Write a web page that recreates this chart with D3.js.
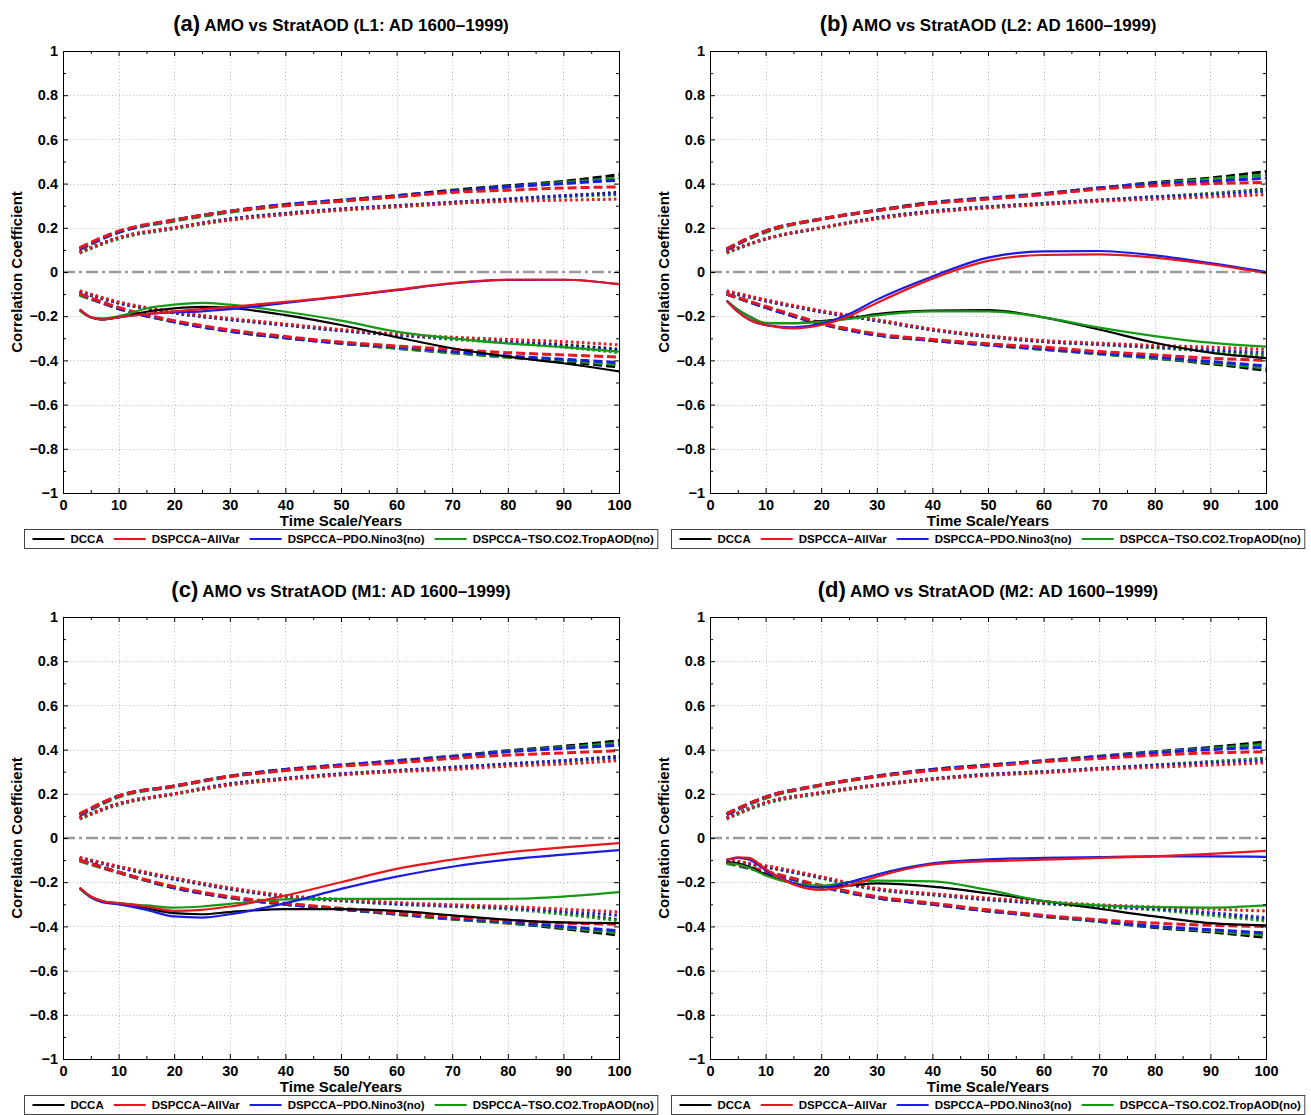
<!DOCTYPE html>
<html lang="en">
<head>
<meta charset="utf-8">
<title>AMO vs StratAOD</title>
<script src="https://cdn.jsdelivr.net/npm/d3@7"></script>
<style>
  * { margin: 0; padding: 0; }
  body { background: #fff; }
  svg { display: block; }
  text { font-family: "Liberation Sans", Arial, Helvetica, sans-serif; font-weight: bold; }
</style>
</head>
<body>
<div id="chart"></div>
<script>
// ---- legend / series meta ----
const methods = ["DCCA", "DSPCCA\u2212AllVar", "DSPCCA\u2212PDO.Nino3(no)", "DSPCCA\u2212TSO.CO2.TropAOD(no)"];
const methodColors = ["#000000", "#e8161e", "#1c1ce0", "#169a16"];
const panelLetters = ["(a)", "(b)", "(c)", "(d)"];
const panelTitles = [" AMO vs StratAOD (L1: AD 1600\u20131999)", " AMO vs StratAOD (L2: AD 1600\u20131999)",
                     " AMO vs StratAOD (M1: AD 1600\u20131999)", " AMO vs StratAOD (M2: AD 1600\u20131999)"];

// ---- ticks ----
const xTicks = [0, 10, 20, 30, 40, 50, 60, 70, 80, 90, 100];
const xTickLabels = ["0", "10", "20", "30", "40", "50", "60", "70", "80", "90", "100"];
const xMinor = [5, 15, 25, 35, 45, 55, 65, 75, 85, 95];
const yTicks = [-1, -0.8, -0.6, -0.4, -0.2, 0, 0.2, 0.4, 0.6, 0.8, 1];
const yTickLabels = ["\u22121", "\u22120.8", "\u22120.6", "\u22120.4", "\u22120.2", "0", "0.2", "0.4", "0.6", "0.8", "1"];
const yMinor = [-0.9, -0.7, -0.5, -0.3, -0.1, 0.1, 0.3, 0.5, 0.7, 0.9];

// ---- x positions of the values (time scale, years) ----
const xSolid = [3, 5, 7, 10, 15, 20, 25, 30, 40, 50, 60, 70, 80, 90, 100];
const xBand = [3, 10, 20, 30, 40, 50, 60, 70, 80, 90, 100];

// rows: DCCA, AllVar, PDO.Nino3(no), TSO.CO2.TropAOD(no)
// ---- panel (a) ----
const solidA = [
  [-0.17, -0.205, -0.215, -0.205, -0.18, -0.165, -0.158, -0.163, -0.195, -0.24, -0.295, -0.345, -0.383, -0.413, -0.45],
  [-0.17, -0.205, -0.215, -0.205, -0.19, -0.178, -0.168, -0.158, -0.135, -0.11, -0.08, -0.05, -0.035, -0.035, -0.055],
  [-0.17, -0.205, -0.215, -0.205, -0.19, -0.183, -0.178, -0.168, -0.14, -0.112, -0.082, -0.052, -0.036, -0.035, -0.055],
  [-0.175, -0.205, -0.21, -0.2, -0.165, -0.148, -0.14, -0.148, -0.18, -0.22, -0.27, -0.3, -0.323, -0.34, -0.36]
];
const upDashA = [
  [0.105, 0.18, 0.235, 0.275, 0.305, 0.325, 0.345, 0.37, 0.39, 0.41, 0.44],
  [0.11, 0.185, 0.235, 0.275, 0.3, 0.32, 0.34, 0.36, 0.37, 0.38, 0.385],
  [0.105, 0.18, 0.235, 0.275, 0.305, 0.325, 0.345, 0.365, 0.385, 0.4, 0.415],
  [0.1, 0.18, 0.23, 0.27, 0.3, 0.32, 0.34, 0.365, 0.385, 0.405, 0.425]
];
const upDotA = [
  [0.09, 0.155, 0.2, 0.24, 0.265, 0.285, 0.3, 0.315, 0.33, 0.345, 0.36],
  [0.09, 0.155, 0.2, 0.235, 0.26, 0.28, 0.295, 0.31, 0.32, 0.325, 0.33],
  [0.09, 0.155, 0.2, 0.24, 0.265, 0.285, 0.3, 0.315, 0.33, 0.345, 0.355],
  [0.085, 0.15, 0.195, 0.235, 0.26, 0.28, 0.295, 0.31, 0.325, 0.34, 0.35]
];
const loDashA = [
  [-0.1, -0.165, -0.225, -0.268, -0.298, -0.322, -0.345, -0.365, -0.385, -0.405, -0.43],
  [-0.1, -0.16, -0.22, -0.262, -0.292, -0.317, -0.335, -0.35, -0.365, -0.375, -0.385],
  [-0.1, -0.165, -0.225, -0.268, -0.298, -0.322, -0.34, -0.36, -0.38, -0.395, -0.41],
  [-0.105, -0.165, -0.225, -0.268, -0.298, -0.322, -0.345, -0.365, -0.385, -0.4, -0.42]
];
const loDotA = [
  [-0.09, -0.14, -0.185, -0.215, -0.24, -0.265, -0.285, -0.3, -0.315, -0.33, -0.35],
  [-0.085, -0.135, -0.18, -0.21, -0.235, -0.26, -0.28, -0.295, -0.305, -0.315, -0.33],
  [-0.09, -0.14, -0.185, -0.215, -0.24, -0.265, -0.285, -0.3, -0.315, -0.335, -0.355],
  [-0.09, -0.14, -0.185, -0.215, -0.24, -0.265, -0.285, -0.305, -0.32, -0.34, -0.365]
];

// ---- panel (b) ----
const solidB = [
  [-0.13, -0.17, -0.2, -0.232, -0.232, -0.222, -0.21, -0.19, -0.175, -0.172, -0.205, -0.26, -0.32, -0.365, -0.39],
  [-0.13, -0.18, -0.215, -0.24, -0.255, -0.24, -0.2, -0.14, -0.03, 0.05, 0.077, 0.08, 0.065, 0.035, -0.005],
  [-0.13, -0.18, -0.215, -0.24, -0.25, -0.235, -0.19, -0.125, -0.02, 0.065, 0.093, 0.095, 0.075, 0.04, 0.0],
  [-0.13, -0.17, -0.2, -0.23, -0.232, -0.226, -0.212, -0.196, -0.178, -0.178, -0.205, -0.252, -0.29, -0.32, -0.338]
];
const upDashB = [
  [0.105, 0.185, 0.24, 0.28, 0.315, 0.335, 0.355, 0.38, 0.405, 0.425, 0.455],
  [0.105, 0.185, 0.24, 0.278, 0.31, 0.33, 0.35, 0.375, 0.39, 0.4, 0.405],
  [0.1, 0.185, 0.24, 0.278, 0.312, 0.333, 0.353, 0.38, 0.4, 0.41, 0.425],
  [0.1, 0.18, 0.238, 0.277, 0.312, 0.333, 0.353, 0.38, 0.402, 0.42, 0.44]
];
const upDotB = [
  [0.09, 0.15, 0.2, 0.245, 0.275, 0.295, 0.31, 0.325, 0.34, 0.355, 0.375],
  [0.09, 0.15, 0.2, 0.24, 0.27, 0.29, 0.305, 0.32, 0.33, 0.34, 0.35],
  [0.09, 0.15, 0.2, 0.245, 0.275, 0.295, 0.31, 0.325, 0.34, 0.35, 0.365],
  [0.085, 0.148, 0.198, 0.243, 0.273, 0.293, 0.31, 0.325, 0.34, 0.355, 0.37]
];
const loDashB = [
  [-0.1, -0.16, -0.235, -0.285, -0.31, -0.33, -0.35, -0.37, -0.39, -0.415, -0.445],
  [-0.1, -0.155, -0.23, -0.28, -0.305, -0.325, -0.34, -0.36, -0.375, -0.39, -0.4],
  [-0.1, -0.16, -0.235, -0.285, -0.31, -0.33, -0.348, -0.368, -0.385, -0.405, -0.425],
  [-0.1, -0.16, -0.235, -0.285, -0.31, -0.33, -0.35, -0.37, -0.39, -0.41, -0.435]
];
const loDotB = [
  [-0.09, -0.13, -0.18, -0.22, -0.262, -0.292, -0.315, -0.328, -0.342, -0.358, -0.38],
  [-0.085, -0.125, -0.175, -0.215, -0.258, -0.288, -0.31, -0.322, -0.332, -0.34, -0.35],
  [-0.09, -0.13, -0.18, -0.22, -0.262, -0.292, -0.315, -0.326, -0.338, -0.352, -0.365],
  [-0.09, -0.13, -0.18, -0.22, -0.262, -0.292, -0.315, -0.328, -0.342, -0.36, -0.38]
];

// ---- panel (c) ----
const solidC = [
  [-0.225, -0.265, -0.285, -0.297, -0.318, -0.34, -0.345, -0.335, -0.322, -0.322, -0.33, -0.35, -0.37, -0.382, -0.385],
  [-0.225, -0.265, -0.285, -0.295, -0.31, -0.33, -0.325, -0.31, -0.26, -0.2, -0.14, -0.098, -0.065, -0.042, -0.023],
  [-0.225, -0.268, -0.29, -0.3, -0.325, -0.355, -0.36, -0.345, -0.295, -0.23, -0.175, -0.13, -0.098, -0.075, -0.055],
  [-0.23, -0.268, -0.285, -0.295, -0.305, -0.315, -0.31, -0.298, -0.278, -0.275, -0.275, -0.275, -0.275, -0.265, -0.245]
];
const upDashC = [
  [0.105, 0.19, 0.235, 0.28, 0.31, 0.33, 0.35, 0.37, 0.395, 0.415, 0.44],
  [0.11, 0.19, 0.235, 0.278, 0.305, 0.325, 0.34, 0.36, 0.375, 0.385, 0.395],
  [0.105, 0.19, 0.235, 0.28, 0.31, 0.33, 0.348, 0.368, 0.39, 0.405, 0.42],
  [0.1, 0.185, 0.232, 0.277, 0.307, 0.328, 0.348, 0.368, 0.392, 0.41, 0.43]
];
const upDotC = [
  [0.09, 0.155, 0.2, 0.245, 0.27, 0.29, 0.305, 0.32, 0.335, 0.35, 0.37],
  [0.09, 0.155, 0.2, 0.24, 0.265, 0.285, 0.3, 0.31, 0.325, 0.335, 0.35],
  [0.09, 0.155, 0.2, 0.245, 0.27, 0.29, 0.305, 0.32, 0.335, 0.35, 0.365],
  [0.085, 0.15, 0.197, 0.24, 0.267, 0.288, 0.303, 0.318, 0.333, 0.345, 0.36]
];
const loDashC = [
  [-0.1, -0.155, -0.225, -0.27, -0.3, -0.322, -0.345, -0.367, -0.385, -0.41, -0.44],
  [-0.1, -0.155, -0.22, -0.265, -0.295, -0.318, -0.338, -0.358, -0.372, -0.385, -0.39],
  [-0.1, -0.155, -0.225, -0.27, -0.3, -0.322, -0.343, -0.363, -0.38, -0.4, -0.42],
  [-0.105, -0.158, -0.225, -0.27, -0.3, -0.322, -0.345, -0.366, -0.384, -0.405, -0.43]
];
const loDotC = [
  [-0.09, -0.132, -0.185, -0.23, -0.265, -0.282, -0.298, -0.308, -0.318, -0.34, -0.37],
  [-0.088, -0.128, -0.18, -0.225, -0.26, -0.278, -0.292, -0.302, -0.31, -0.322, -0.335],
  [-0.09, -0.132, -0.185, -0.23, -0.265, -0.282, -0.298, -0.306, -0.316, -0.332, -0.35],
  [-0.092, -0.134, -0.187, -0.232, -0.267, -0.285, -0.3, -0.31, -0.322, -0.345, -0.375]
];

// ---- panel (d) ----
const solidD = [
  [-0.11, -0.115, -0.13, -0.165, -0.205, -0.222, -0.215, -0.205, -0.22, -0.25, -0.285, -0.32, -0.355, -0.385, -0.395],
  [-0.1, -0.087, -0.09, -0.14, -0.21, -0.235, -0.215, -0.175, -0.12, -0.105, -0.098, -0.09, -0.083, -0.072, -0.058],
  [-0.1, -0.09, -0.097, -0.145, -0.205, -0.225, -0.2, -0.165, -0.115, -0.097, -0.09, -0.086, -0.083, -0.083, -0.085],
  [-0.115, -0.12, -0.135, -0.17, -0.205, -0.215, -0.2, -0.193, -0.196, -0.235, -0.285, -0.305, -0.313, -0.315, -0.305]
];
const upDashD = [
  [0.11, 0.185, 0.24, 0.28, 0.31, 0.33, 0.35, 0.37, 0.39, 0.41, 0.435],
  [0.11, 0.185, 0.24, 0.278, 0.305, 0.325, 0.345, 0.36, 0.375, 0.385, 0.39],
  [0.105, 0.185, 0.24, 0.28, 0.31, 0.33, 0.348, 0.368, 0.385, 0.4, 0.41],
  [0.105, 0.18, 0.237, 0.277, 0.307, 0.328, 0.348, 0.368, 0.388, 0.405, 0.425]
];
const upDotD = [
  [0.09, 0.16, 0.205, 0.24, 0.268, 0.288, 0.3, 0.315, 0.33, 0.345, 0.36],
  [0.09, 0.16, 0.205, 0.238, 0.265, 0.283, 0.295, 0.31, 0.32, 0.33, 0.34],
  [0.09, 0.16, 0.205, 0.24, 0.268, 0.288, 0.3, 0.315, 0.328, 0.34, 0.35],
  [0.085, 0.155, 0.2, 0.237, 0.265, 0.285, 0.298, 0.313, 0.328, 0.345, 0.36]
];
const loDashD = [
  [-0.11, -0.155, -0.22, -0.27, -0.3, -0.33, -0.355, -0.378, -0.405, -0.425, -0.45],
  [-0.11, -0.15, -0.215, -0.265, -0.295, -0.325, -0.35, -0.37, -0.385, -0.395, -0.4],
  [-0.11, -0.155, -0.22, -0.27, -0.3, -0.33, -0.353, -0.375, -0.4, -0.415, -0.43],
  [-0.115, -0.155, -0.22, -0.27, -0.3, -0.33, -0.355, -0.377, -0.402, -0.42, -0.44]
];
const loDotD = [
  [-0.1, -0.13, -0.18, -0.232, -0.256, -0.278, -0.295, -0.31, -0.322, -0.345, -0.37],
  [-0.1, -0.125, -0.175, -0.228, -0.252, -0.272, -0.288, -0.302, -0.312, -0.322, -0.33],
  [-0.1, -0.13, -0.18, -0.232, -0.256, -0.278, -0.294, -0.308, -0.32, -0.338, -0.36],
  [-0.105, -0.132, -0.182, -0.234, -0.258, -0.28, -0.297, -0.312, -0.325, -0.35, -0.375]
];

// ---- layout ----
const W = 1311, H = 1115;
const plotW = 556, plotH = 442;
const panels = [
  {left: 63,  top: 51,  solid: solidA, upDash: upDashA, upDot: upDotA, loDash: loDashA, loDot: loDotA},
  {left: 710, top: 51,  solid: solidB, upDash: upDashB, upDot: upDotB, loDash: loDashB, loDot: loDotB},
  {left: 63,  top: 617, solid: solidC, upDash: upDashC, upDot: upDotC, loDash: loDashC, loDot: loDotC},
  {left: 710, top: 617, solid: solidD, upDash: upDashD, upDot: upDotD, loDash: loDashD, loDot: loDotD}
];
const drawOrder = [0, 3, 2, 1]; // black, green, blue, red (red on top)

const svg = d3.select("#chart").append("svg")
  .attr("width", W).attr("height", H);
svg.append("rect").attr("width", W).attr("height", H).attr("fill", "#fff");

panels.forEach((p, i) => {
  const x = d3.scaleLinear().domain([0, 100]).range([p.left, p.left + plotW]);
  const y = d3.scaleLinear().domain([-1, 1]).range([p.top + plotH, p.top]);
  const g = svg.append("g");

  svg.append("clipPath").attr("id", "clip" + i)
    .append("rect").attr("x", p.left).attr("y", p.top).attr("width", plotW).attr("height", plotH);

  // grid
  const grid = g.append("g").attr("stroke", "#b8b8b8").attr("stroke-width", 1).attr("stroke-dasharray", "1,2.5");
  grid.selectAll(".gx").data(xTicks.slice(1, -1)).join("line")
    .attr("x1", d => Math.round(x(d)) + 0.5).attr("x2", d => Math.round(x(d)) + 0.5)
    .attr("y1", p.top).attr("y2", p.top + plotH);
  grid.selectAll(".gy").data(yTicks.slice(1, -1).filter(d => d !== 0)).join("line")
    .attr("y1", d => Math.round(y(d)) + 0.5).attr("y2", d => Math.round(y(d)) + 0.5)
    .attr("x1", p.left).attr("x2", p.left + plotW);

  // zero line
  g.append("line")
    .attr("x1", p.left).attr("x2", p.left + plotW)
    .attr("y1", y(0)).attr("y2", y(0))
    .attr("stroke", "#9a9a9a").attr("stroke-width", 2.4)
    .attr("stroke-dasharray", "12,4,3,4");

  const lines = g.append("g").attr("clip-path", `url(#clip${i})`).attr("fill", "none");
  const lineS = d3.line().x((d, k) => x(xSolid[k])).y(d => y(d)).curve(d3.curveMonotoneX);
  const lineB = d3.line().x((d, k) => x(xBand[k])).y(d => y(d)).curve(d3.curveMonotoneX);

  // confidence bounds: dashed and dotted
  drawOrder.forEach(m => {
    [p.upDash[m], p.loDash[m]].forEach(arr => {
      lines.append("path").attr("d", lineB(arr))
        .attr("stroke", methodColors[m]).attr("stroke-width", 3)
        .attr("stroke-dasharray", "9,4");
    });
    [p.upDot[m], p.loDot[m]].forEach(arr => {
      lines.append("path").attr("d", lineB(arr))
        .attr("stroke", methodColors[m]).attr("stroke-width", 3)
        .attr("stroke-dasharray", "2.5,3");
    });
  });
  // correlation curves
  drawOrder.forEach(m => {
    lines.append("path").attr("d", lineS(p.solid[m]))
      .attr("stroke", methodColors[m]).attr("stroke-width", 2.2);
  });

  // axes (ticks pointing inward on all sides)
  const styleAxis = sel => {
    sel.attr("font-family", null).attr("font-size", null);
    sel.select(".domain").attr("stroke", "#000").attr("stroke-width", 1);
    sel.selectAll(".tick line").attr("stroke", "#000");
    sel.selectAll("text").attr("font-size", "14.5px").attr("fill", "#000");
  };
  g.append("g").attr("transform", `translate(0,${p.top + plotH})`)
    .call(d3.axisBottom(x).tickValues(xTicks).tickFormat((d, k) => xTickLabels[k])
      .tickSizeInner(-5).tickSizeOuter(0).tickPadding(7))
    .call(styleAxis);
  g.append("g").attr("transform", `translate(0,${p.top + plotH})`)
    .call(d3.axisBottom(x).tickValues(xMinor).tickFormat("").tickSizeInner(-3).tickSizeOuter(0))
    .call(styleAxis);
  g.append("g").attr("transform", `translate(0,${p.top})`)
    .call(d3.axisTop(x).tickValues(xTicks).tickFormat("").tickSizeInner(-5).tickSizeOuter(0))
    .call(styleAxis);
  g.append("g").attr("transform", `translate(0,${p.top})`)
    .call(d3.axisTop(x).tickValues(xMinor).tickFormat("").tickSizeInner(-3).tickSizeOuter(0))
    .call(styleAxis);
  g.append("g").attr("transform", `translate(${p.left},0)`)
    .call(d3.axisLeft(y).tickValues(yTicks).tickFormat((d, k) => yTickLabels[k])
      .tickSizeInner(-5).tickSizeOuter(0).tickPadding(5))
    .call(styleAxis);
  g.append("g").attr("transform", `translate(${p.left},0)`)
    .call(d3.axisLeft(y).tickValues(yMinor).tickFormat("").tickSizeInner(-3).tickSizeOuter(0))
    .call(styleAxis);
  g.append("g").attr("transform", `translate(${p.left + plotW},0)`)
    .call(d3.axisRight(y).tickValues(yTicks).tickFormat("").tickSizeInner(-5).tickSizeOuter(0))
    .call(styleAxis);
  g.append("g").attr("transform", `translate(${p.left + plotW},0)`)
    .call(d3.axisRight(y).tickValues(yMinor).tickFormat("").tickSizeInner(-3).tickSizeOuter(0))
    .call(styleAxis);

  const cx = p.left + plotW / 2;

  // title
  const title = g.append("text").attr("x", cx).attr("y", p.top - 20)
    .attr("text-anchor", "middle").attr("fill", "#000");
  title.append("tspan").attr("font-size", "22px").text(panelLetters[i]);
  title.append("tspan").attr("font-size", "17px").text(panelTitles[i]);

  // axis labels
  g.append("text").attr("x", cx).attr("y", p.top + plotH + 33)
    .attr("text-anchor", "middle").attr("font-size", "15px").text("Time Scale/Years");
  g.append("text")
    .attr("transform", `translate(${p.left - 41},${p.top + plotH / 2}) rotate(-90)`)
    .attr("text-anchor", "middle").attr("font-size", "15px").text("Correlation Coefficient");

  // legend
  const legTop = p.top + plotH + 36, legH = 19;
  const leg = g.append("g");
  const box = leg.append("rect").attr("y", legTop + 0.5).attr("height", legH)
    .attr("fill", "#fff").attr("stroke", "#444").attr("stroke-width", 1);
  let lx = 8;
  methods.forEach((name, m) => {
    leg.append("line").attr("x1", lx).attr("x2", lx + 32)
      .attr("y1", legTop + legH / 2 + 0.5).attr("y2", legTop + legH / 2 + 0.5)
      .attr("stroke", methodColors[m]).attr("stroke-width", 2.2);
    const t = leg.append("text").attr("x", lx + 38).attr("y", legTop + legH / 2 + 4.5)
      .attr("font-size", "11.5px").text(name);
    lx += 38 + t.node().getComputedTextLength() + 10;
  });
  const legW = lx - 10 + 4;
  box.attr("x", 0).attr("width", legW);
  leg.attr("transform", `translate(${Math.round(cx - legW / 2) + 0.5},0)`);
});
</script>
</body>
</html>
